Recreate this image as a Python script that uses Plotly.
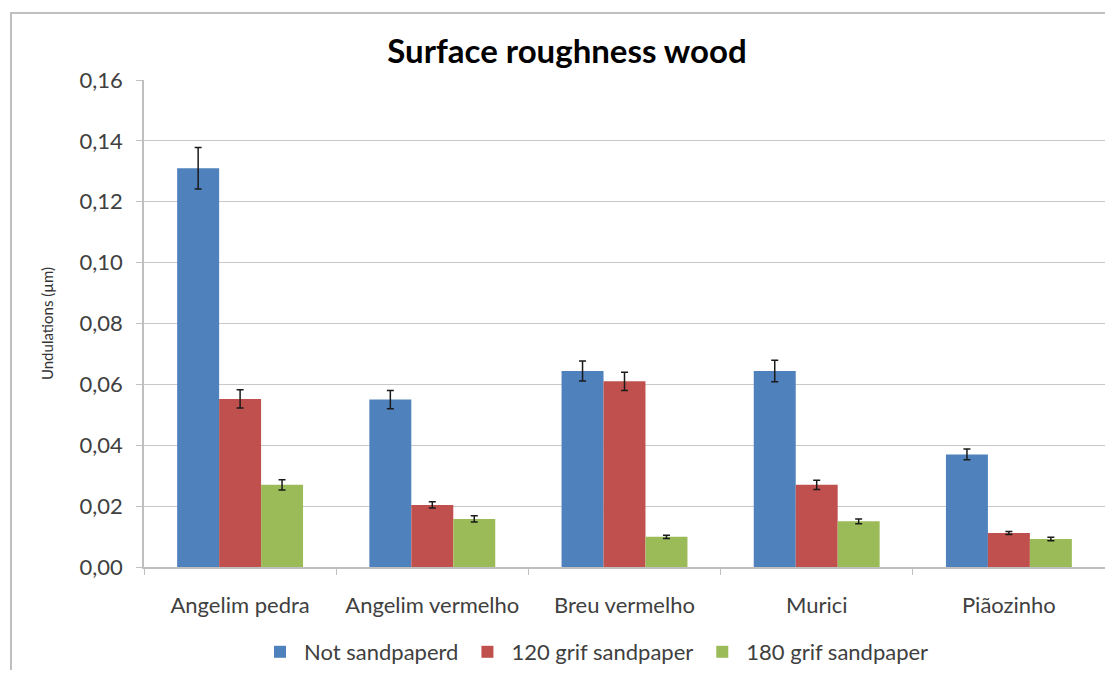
import plotly.graph_objects as go

categories = ["Angelim pedra", "Angelim vermelho", "Breu vermelho", "Murici", "Piãozinho"]
series_names = ["Not sandpaperd", "120 grif sandpaper", "180 grif sandpaper"]
not_sanded = [0.131, 0.055, 0.0644, 0.0644, 0.037]
not_sanded_err = [0.0068, 0.003, 0.0033, 0.0035, 0.0018]
grit120 = [0.0552, 0.0204, 0.061, 0.027, 0.0112]
grit120_err = [0.003, 0.001, 0.003, 0.0015, 0.0005]
grit180 = [0.027, 0.0158, 0.0099, 0.015, 0.0092]
grit180_err = [0.0017, 0.001, 0.0005, 0.0008, 0.0006]
colors = ["#4F81BD", "#C0504D", "#9BBB59"]

OFF = 8  # page body margin
W, H = 1113 - OFF, 678 - 2 * OFF
L, R, T, B = 144 - OFF, 1105 - OFF, 80 - OFF, 567 - OFF

fig = go.Figure()
for name, vals, errs, col in zip(series_names, [not_sanded, grit120, grit180],
                                 [not_sanded_err, grit120_err, grit180_err], colors):
    fig.add_trace(go.Bar(
        x=categories, y=vals, name=name, marker=dict(color=col, line=dict(width=0)),
        error_y=dict(type="data", array=errs, visible=True, color="#1a1a1a",
                     thickness=1.5, width=3.5),
    ))

def px_x(p):
    return (p - OFF - L) / (R - L)

def px_y(p):
    return (B - (p - OFF)) / (B - T)

fig.update_layout(
    width=W, height=H,
    margin=dict(l=L, r=W - R, t=T, b=H - B, pad=0, autoexpand=False),
    paper_bgcolor="white", plot_bgcolor="white",
    separators=",.",
    barmode="group", bargap=0.345, bargroupgap=0,
    font=dict(family="Lato, sans-serif", color="#404040", size=20),
    title=dict(text="<b>Surface roughness wood</b>", x=(567 - OFF) / W, xanchor="center",
               xref="container", yref="container",
               y=1 - (51 - OFF) / H, yanchor="middle",
               font=dict(family="Lato, sans-serif", size=33, color="#000000")),
    legend=dict(orientation="h", xref="container", yref="container",
                x=(595 - OFF) / W, xanchor="center", y=1 - (652 - OFF) / H,
                yanchor="middle", font=dict(size=22, color="#404040"),
                traceorder="normal", itemwidth=38),
    showlegend=True,
    shapes=[dict(type="rect", xref="paper", yref="paper",
                 x0=px_x(11), x1=px_x(1130), y0=px_y(700), y1=px_y(13),
                 line=dict(color="#bfbfbf", width=2), fillcolor="rgba(0,0,0,0)",
                 layer="below")],
)
fig.update_xaxes(
    showline=True, linecolor="#bfbfbf", linewidth=1.5,
    ticks="outside", tickson="boundaries", ticklen=6, tickcolor="#bfbfbf",
    tickfont=dict(size=22, color="#404040"), showgrid=False,
    ticklabelstandoff=18,
)
fig.update_yaxes(
    range=[0, 0.16], dtick=0.02, tickformat=".2f",
    showline=True, linecolor="#bfbfbf", linewidth=1.5,
    ticks="outside", ticklen=6, tickcolor="#bfbfbf",
    showgrid=True, gridcolor="#c8c8c8", gridwidth=1.3,
    tickfont=dict(size=22, color="#404040"), ticklabelstandoff=9,
    title=dict(text="Undulations (µm)", font=dict(size=15, color="#333333"), standoff=22),
    zeroline=False,
)
fig.write_html("out.html")
